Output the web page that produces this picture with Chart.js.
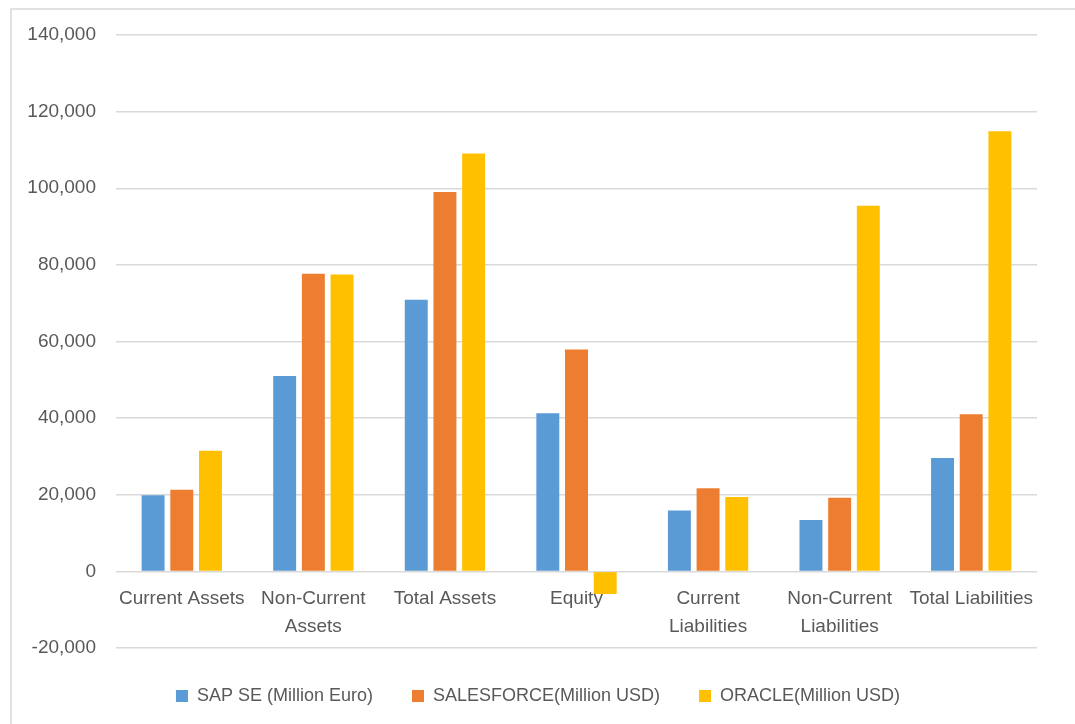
<!DOCTYPE html>
<html>
<head>
<meta charset="utf-8">
<script src="https://cdn.jsdelivr.net/npm/chart.js@4"></script>
<style>
  html, body { margin: 0; padding: 0; background: #ffffff; }
  #wrap { width: 1075px; height: 724px; position: relative; }
</style>
</head>
<body>
<div id="wrap"><canvas id="c" width="1075" height="724"></canvas></div>
<script>
const categories = [
  "Current Assets",
  ["Non-Current", "Assets"],
  "Total Assets",
  "Equity",
  ["Current", "Liabilities"],
  ["Non-Current", "Liabilities"],
  "Total Liabilities"
];
const seriesNames = ["SAP SE (Million Euro)", "SALESFORCE(Million USD)", "ORACLE(Million USD)"];
const sapValues = [19900, 51000, 70900, 41300, 15900, 13400, 29600];
const salesforceValues = [21300, 77700, 99000, 57900, 21700, 19200, 41000];
const oracleValues = [31500, 77500, 109100, -5900, 19400, 95400, 114900];
const yMin = -20000, yMax = 140000, yStep = 20000;

const FONT = "'Liberation Sans', Arial, sans-serif";
const TXT = "#595959";
const GRID = "#d9d9d9";

const frame = {
  id: 'frame',
  beforeDraw(chart) {
    const ctx = chart.ctx;
    ctx.save();
    ctx.fillStyle = '#ffffff';
    ctx.fillRect(0, 0, chart.width, chart.height);
    ctx.strokeStyle = GRID;
    ctx.lineWidth = 1.5;
    ctx.strokeRect(11, 9, chart.width + 20, chart.height + 20);
    ctx.restore();
  }
};
const legendShift = {
  id: 'legendShift',
  afterLayout(chart) {
    const lg = chart.legend;
    if (lg) { lg.left += 14; lg.right += 14; }
  }
};

new Chart(document.getElementById('c'), {
  type: 'bar',
  data: {
    labels: categories,
    datasets: [
      { label: seriesNames[0], data: sapValues, backgroundColor: '#5B9BD5' },
      { label: seriesNames[1], data: salesforceValues, backgroundColor: '#ED7D31' },
      { label: seriesNames[2], data: oracleValues, backgroundColor: '#FFC000' }
    ]
  },
  options: {
    responsive: false,
    animation: false,
    devicePixelRatio: 1,
    layout: { padding: { left: 11, top: 35, right: 38, bottom: 9 } },
    datasets: { bar: { categoryPercentage: 0.654, barPercentage: 0.8 } },
    scales: {
      x: {
        position: { y: 0 },
        grid: { display: false, drawTicks: false },
        border: { display: false },
        ticks: {
          color: TXT, font: { family: FONT, size: 19, lineHeight: 1.45 },
          padding: 14, maxRotation: 0, autoSkip: false
        }
      },
      y: {
        min: yMin, max: yMax,
        grid: { color: GRID, lineWidth: 1.5, drawTicks: false },
        border: { display: false },
        afterFit(s) { s.width = 105; },
        ticks: {
          stepSize: yStep, padding: 20, color: TXT,
          font: { family: FONT, size: 19 },
          callback: v => v.toLocaleString('en-US')
        }
      }
    },
    plugins: {
      tooltip: { enabled: false },
      legend: {
        position: 'bottom',
        labels: {
          boxWidth: 12, boxHeight: 12, padding: 39, color: TXT,
          font: { family: FONT, size: 18 }
        }
      }
    }
  },
  plugins: [frame, legendShift]
});
</script>
</body>
</html>
